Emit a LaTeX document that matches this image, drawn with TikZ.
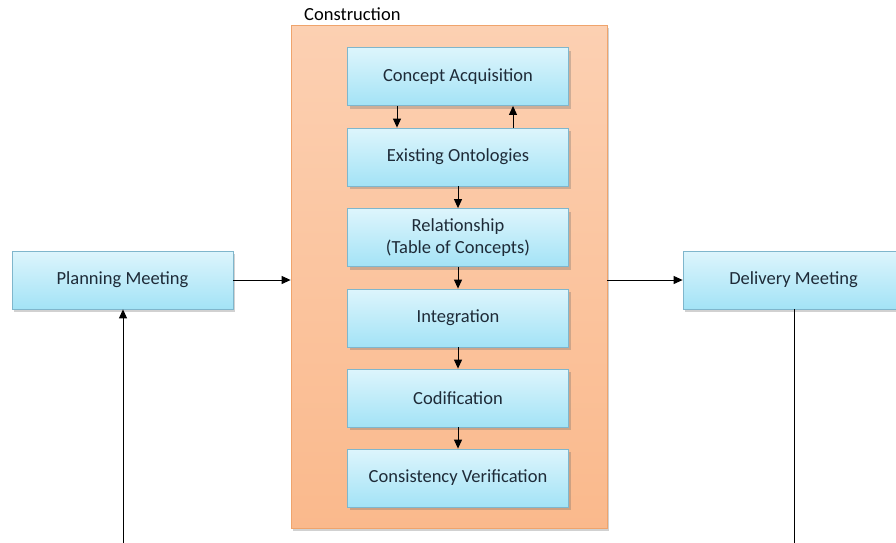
\documentclass[tikz,border=0pt]{standalone}
\usepackage{fontspec}
\setmainfont{Carlito}
\usetikzlibrary{shadows,arrows.meta}
\definecolor{bluetop}{HTML}{DDF5FC}
\definecolor{bluebot}{HTML}{A3E3F6}
\definecolor{blueedge}{HTML}{7FB6CC}
\definecolor{orgtop}{HTML}{FCD0B2}
\definecolor{orgbot}{HTML}{FAB98C}
\definecolor{orgedge}{HTML}{EFA46C}
\definecolor{txt}{HTML}{1E2B38}
\tikzset{
  procbox/.style={draw=blueedge, line width=0.8pt, top color=bluetop, bottom color=bluebot,
    minimum width=221pt, minimum height=58pt, inner sep=0pt, align=center, text=txt,
    font=\fontsize{18.5}{22}\selectfont,
    drop shadow={shadow xshift=2pt, shadow yshift=-3pt, opacity=0.3, fill=black!60}},
  conn/.style={-{Triangle[length=9pt,width=8pt]}, line width=1pt, black}
}
\begin{document}
\begin{tikzpicture}[x=1pt,y=-1pt]
\useasboundingbox (0,0) rectangle (896,542);
\clip (0,0) rectangle (896,542);
% construction container
\node[draw=orgedge, line width=0.8pt, top color=orgtop, bottom color=orgbot,
  minimum width=316pt, minimum height=503pt, inner sep=0pt,
  drop shadow={shadow xshift=2pt, shadow yshift=-3pt, opacity=0.3, fill=black!60}]
  (cons) at (449,276.5) {};
\node[anchor=base west, font=\fontsize{18.5}{22}\selectfont, text=black, inner sep=0pt] (lbl) at (304,20) {Construction};
% inner process boxes
\node[procbox] (ca) at (458,76.5) {Concept Acquisition};
\node[procbox] (eo) at (458,157) {Existing Ontologies};
\node[procbox] (rel) at (458,237.5) {Relationship\\(Table of Concepts)};
\node[procbox] (int) at (458,318) {Integration};
\node[procbox] (cod) at (458,398) {Codification};
\node[procbox] (cv) at (458,478) {Consistency Verification};
% side boxes
\node[procbox] (pm) at (122.5,280) {Planning Meeting};
\node[procbox] (dm) at (793.5,280) {Delivery Meeting};
% connectors
\draw[conn] (ca.south -| 397,0) -- (eo.north -| 397,0);
\draw[conn] (eo.north -| 513,0) -- (ca.south -| 513,0);
\draw[conn] (eo) -- (rel);
\draw[conn] (rel) -- (int);
\draw[conn] (int) -- (cod);
\draw[conn] (cod) -- (cv);
\draw[conn] (pm.east) -- (cons.west |- pm.east);
\draw[conn] (cons.east |- dm.west) -- (dm.west);
\coordinate (pmfoot) at (123,545);
\coordinate (dmfoot) at (794,545);
\draw[conn] (pmfoot) -- (pmfoot |- pm.south);
\draw[line width=1pt] (dmfoot |- dm.south) -- (dmfoot);
\end{tikzpicture}
\end{document}
